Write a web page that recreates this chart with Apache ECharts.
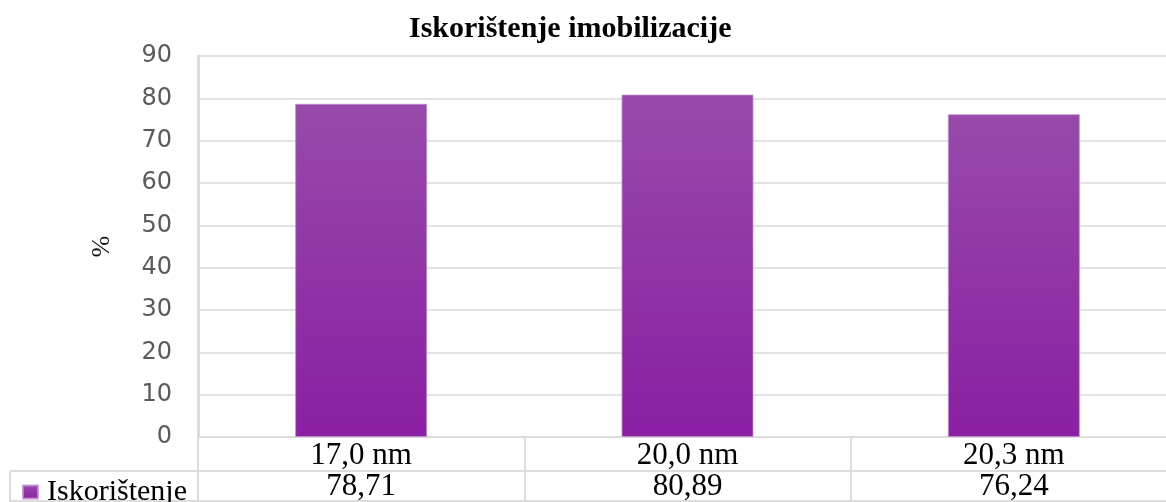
<!DOCTYPE html>
<html>
<head>
<meta charset="utf-8">
<script src="https://cdn.jsdelivr.net/npm/echarts@6/dist/echarts.min.js"></script>
<style>html,body{margin:0;padding:0;background:#fff;overflow:hidden;width:1166px;height:502px;}#c{width:1177px;height:502px;}</style>
</head>
<body>
<div id="c"></div>
<script>
var titleText = 'Iskorištenje imobilizacije';
var seriesName = 'Iskorištenje';
var categories = ['17,0 nm', '20,0 nm', '20,3 nm'];
var values = [78.71, 80.89, 76.24];
var yMin = 0, yMax = 90, yStep = 10;
var yName = '%';

var valueLabels = values.map(function (v) { return v.toFixed(2).replace('.', ','); });
var serif = '"Liberation Serif", "Times New Roman", serif';
var lineCol = '#dcdcdc';

var chart = echarts.init(document.getElementById('c'));
chart.setOption({
  animation: false,
  backgroundColor: '#fff',
  title: {
    text: titleText,
    left: 404, top: 9,
    textStyle: { fontFamily: serif, fontWeight: 'bold', fontSize: 30, color: '#000' }
  },
  legend: {
    data: [seriesName],
    left: 17, top: 472,
    icon: 'rect', itemWidth: 15, itemHeight: 13, itemGap: 4,
    textStyle: { fontFamily: serif, fontSize: 30, color: '#000', padding: [0, 0, 0, 4] }
  },
  grid: { left: 198, top: 56, bottom: 64, right: 0 },
  xAxis: [{
    type: 'category', data: categories, position: 'bottom',
    axisLine: { show: true, lineStyle: { color: lineCol, width: 2 } },
    axisTick: { show: true, length: 63, lineStyle: { color: lineCol, width: 2 } },
    axisLabel: { fontFamily: serif, fontSize: 31, color: '#000', margin: 3 }
  }, {
    type: 'category', data: valueLabels, position: 'bottom', offset: 33,
    axisLine: { show: false }, axisTick: { show: false },
    axisLabel: { fontFamily: serif, fontSize: 31, color: '#000', margin: 1 }
  }],
  yAxis: {
    type: 'value', min: yMin, max: yMax, interval: yStep,
    name: yName, nameLocation: 'middle', nameGap: 86, nameRotate: -90,
    nameTextStyle: { fontFamily: serif, fontSize: 26, color: '#111' },
    axisLine: { show: true, lineStyle: { color: lineCol, width: 3 } },
    axisTick: { show: false },
    splitLine: { lineStyle: { color: '#e3e3e3', width: 2 } },
    axisLabel: { fontFamily: '"DejaVu Sans", sans-serif', fontSize: 24, color: '#5a5a5a', margin: 26 }
  },
  series: [{
    name: seriesName, type: 'bar', data: values, barWidth: 132, xAxisIndex: 0,
    itemStyle: {
      color: new echarts.graphic.LinearGradient(0, 0, 0, 1, [
        { offset: 0, color: '#974aaa' },
        { offset: 1, color: '#8a1fa3' }
      ]),
      borderColor: 'rgba(190,140,205,0.8)', borderWidth: 1
    }
  }],
  graphic: [
    { type: 'line', shape: { x1: 10, y1: 471, x2: 1177, y2: 471 }, style: { stroke: lineCol, lineWidth: 2 } },
    { type: 'line', shape: { x1: 10, y1: 501, x2: 1177, y2: 501 }, style: { stroke: lineCol, lineWidth: 2 } },
    { type: 'line', shape: { x1: 10, y1: 471, x2: 10, y2: 502 }, style: { stroke: lineCol, lineWidth: 2 } }
  ]
});
</script>
</body>
</html>
